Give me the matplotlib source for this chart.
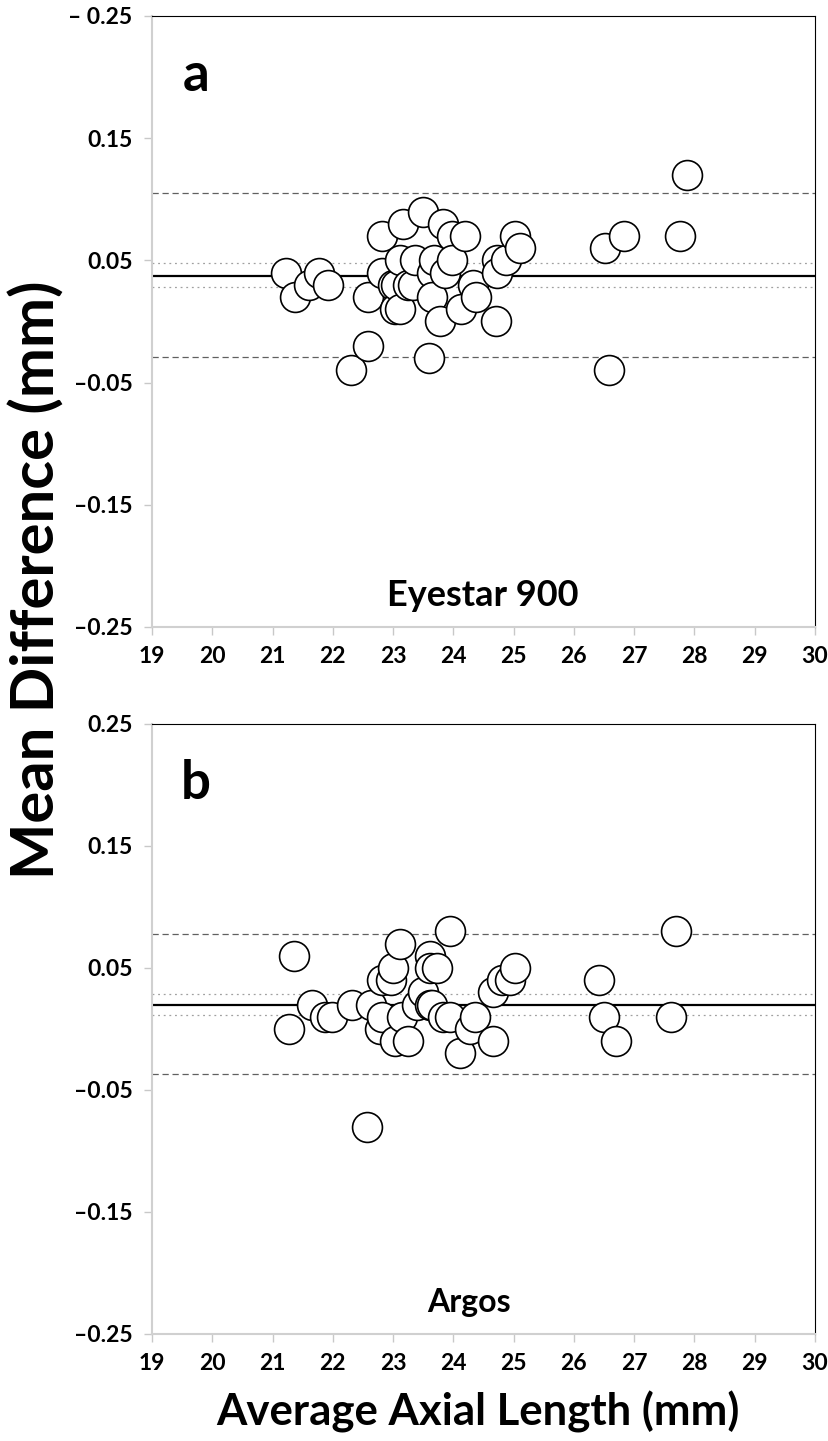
import matplotlib
matplotlib.use("Agg")
import matplotlib.pyplot as plt

plt.rcParams['font.family'] = ['Lato', 'DejaVu Sans']
plt.rcParams['font.weight'] = 'bold'

# panel a - Eyestar 900
a_x = [21.22, 21.37, 21.60, 21.77, 21.92, 22.30, 22.59, 22.59, 22.81, 22.81,
       23.00, 23.03, 23.05, 23.11, 23.11, 23.17, 23.25, 23.33, 23.36, 23.50,
       23.60, 23.64, 23.64, 23.68, 23.78, 23.83, 23.86, 23.97, 23.97, 24.13,
       24.19, 24.33, 24.38, 24.70, 24.72, 24.72, 24.88, 25.02, 25.10, 26.52,
       26.58, 26.83, 27.76, 27.87]
a_y = [0.04, 0.02, 0.03, 0.04, 0.03, -0.04, -0.02, 0.02, 0.07, 0.04,
       0.03, 0.01, 0.03, 0.05, 0.01, 0.08, 0.03, 0.03, 0.05, 0.09,
       -0.03, 0.04, 0.02, 0.05, 0.00, 0.08, 0.04, 0.07, 0.05, 0.01,
       0.07, 0.03, 0.02, 0.00, 0.05, 0.04, 0.05, 0.07, 0.06, 0.06,
       -0.04, 0.07, 0.07, 0.12]
a_mean = 0.037
a_loa = [0.105, -0.029]
a_ci = [0.0475, 0.028]

# panel b - Argos
b_x = [21.27, 21.35, 21.65, 21.87, 21.98, 22.31, 22.57, 22.64, 22.78, 22.81,
       22.81, 22.97, 23.00, 23.03, 23.11, 23.14, 23.25, 23.39, 23.50, 23.61,
       23.61, 23.61, 23.72, 23.64, 23.83, 23.94, 23.94, 24.11, 24.27, 24.36,
       24.66, 24.66, 24.80, 24.94, 25.02, 26.41, 26.50, 26.69, 27.61, 27.70]
b_y = [0.00, 0.06, 0.02, 0.01, 0.01, 0.02, -0.08, 0.02, 0.00, 0.01,
       0.04, 0.04, 0.05, -0.01, 0.07, 0.01, -0.01, 0.02, 0.03, 0.06,
       0.05, 0.02, 0.05, 0.02, 0.01, 0.08, 0.01, -0.02, 0.00, 0.01,
       0.03, -0.01, 0.04, 0.04, 0.05, 0.04, 0.01, -0.01, 0.01, 0.08]
b_mean = 0.020
b_loa = [0.078, -0.037]
b_ci = [0.029, 0.0117]

x_ticks = list(range(19, 31))
y_ticks = [0.25, 0.15, 0.05, -0.05, -0.15, -0.25]
a_ylabels = ['\u2013 0.25', '0.15', '0.05', '\u20130.05', '\u20130.15', '\u20130.25']
b_ylabels = ['0.25', '0.15', '0.05', '\u20130.05', '\u20130.15', '\u20130.25']


def panel(ax, xs, ys, mean, loa, ci, ylabels, letter, name, name_x, name_size):
    for v in loa:
        ax.axhline(v, color='#606060', lw=0.9, ls=(0, (5, 3)), zorder=1)
    for v in ci:
        ax.axhline(v, color='#a0a0a0', lw=0.9, ls=(0, (1.5, 3)), zorder=1)
    ax.axhline(mean, color='black', lw=1.6, zorder=2)
    ax.plot(xs, ys, 'o', ms=21.5, mfc='white', mec='black', mew=1.2,
            ls='none', zorder=3)
    ax.set_xlim(19, 30)
    ax.set_ylim(-0.25, 0.25)
    ax.set_xticks(x_ticks)
    ax.set_xticklabels([str(t) for t in x_ticks])
    ax.set_yticks(y_ticks)
    ax.set_yticklabels(ylabels)
    ax.tick_params(direction='out', length=6, width=1, color='#c8c8c8',
                   labelsize=16.5, pad=8)
    for lab in ax.get_xticklabels() + ax.get_yticklabels():
        lab.set_fontweight('bold')
    ax.spines['left'].set_color('#d0d0d0')
    ax.spines['bottom'].set_color('#d0d0d0')
    ax.spines['left'].set_linewidth(1.5)
    ax.spines['bottom'].set_linewidth(1.5)
    ax.spines['top'].set_color('black')
    ax.spines['right'].set_color('black')
    ax.text(0.066, 0.903, letter, transform=ax.transAxes, fontsize=38,
            fontweight='bold', ha='center', va='center')
    ax.text(name_x, 0.052, name, transform=ax.transAxes, fontsize=name_size,
            fontweight='bold', ha='center', va='center')


def main():
    fig = plt.figure(figsize=(8.29, 14.41), dpi=100)
    ax1 = fig.add_axes([0.1834, 0.5649, 0.7997, 0.424])
    ax2 = fig.add_axes([0.1834, 0.0743, 0.7997, 0.4233])
    panel(ax1, a_x, a_y, a_mean, a_loa, a_ci, a_ylabels, 'a', 'Eyestar 900', 0.499, 26)
    panel(ax2, b_x, b_y, b_mean, b_loa, b_ci, b_ylabels, 'b', 'Argos', 0.478, 23)
    fig.text(0.044, 1 - 580 / 1441, 'Mean Difference (mm)', rotation=90,
             fontsize=43, fontweight='bold', ha='center', va='center')
    fig.text(478 / 829, 1 - 1412 / 1441, 'Average Axial Length (mm)',
             fontsize=31.5, fontweight='bold', ha='center', va='center')
    fig.savefig('out.png', dpi=100)


if __name__ == '__main__':
    main()
